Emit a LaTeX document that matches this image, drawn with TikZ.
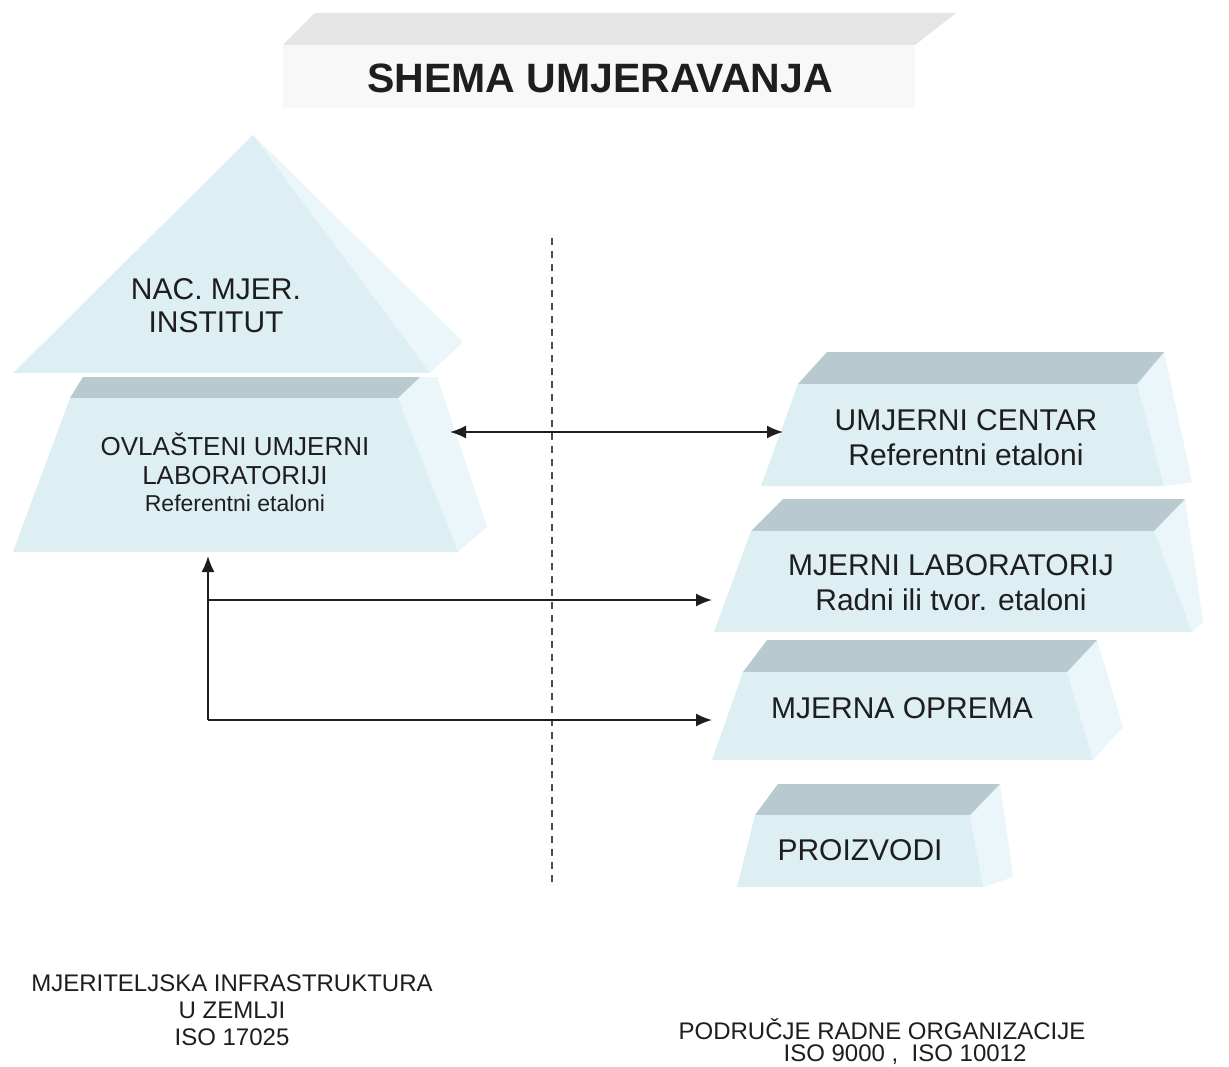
\documentclass[tikz,border=0pt]{standalone}
\usepackage{fontspec}
\setmainfont{Liberation Sans}
\usepackage{tikz}
\usetikzlibrary{scopes,arrows.meta,positioning}
\definecolor{faceblue}{RGB}{221,239,243}
\definecolor{lidgray}{RGB}{184,202,207}
\definecolor{sideblue}{RGB}{234,246,249}
\definecolor{titlelid}{RGB}{229,229,229}
\definecolor{titleface}{RGB}{248,248,248}
\definecolor{ink}{RGB}{30,30,30}
\newcommand{\titlefont}{\fontsize{41}{46}\selectfont\bfseries}
\newcommand{\boxfont}{\fontsize{30}{35}\selectfont}
\newcommand{\olabfont}{\fontsize{26}{29}\selectfont}
\newcommand{\notefont}{\fontsize{24}{27}\selectfont}

\begin{document}
\begin{tikzpicture}[
    x=1pt,y=-1pt,
    face/.style={fill=faceblue},
    lid/.style={fill=lidgray},
    side/.style={fill=sideblue},
    txt/.style={inner sep=0pt,align=center,text=ink},
    arr/.style={-{Latex[length=16pt,width=13pt]},line width=1.7pt,draw=ink},
    divider/.style={draw=ink!80,line width=1.2pt,dash pattern=on 7pt off 6pt},
]
    \fill[white] (0,0) rectangle (1229,1067);
    \useasboundingbox (0,0) rectangle (1229,1067);

    % title slab
    \fill[titlelid] (315,13) -- (956,13) -- (915,45) -- (283,45) -- cycle;
    \fill[titleface] (283,45) rectangle (915,108);
    \node[txt,font=\titlefont] (title) at (600,78) {SHEMA UMJERAVANJA};

    % left pyramid
    {[side]
        \fill (253,135) -- (463,342) -- (430,373) -- cycle;
        \fill (420,377) -- (437,377) -- (487,527) -- (458,552) -- (398,398) -- cycle;
    }
    \fill[face] (253,135) -- (430,373) -- (13,373) -- cycle;
    \fill[lid] (83,377) -- (420,377) -- (398,398) -- (70,398) -- cycle;
    \fill[face] (70,398) -- (398,398) -- (458,552) -- (13,552) -- cycle;
    \node[txt,font=\boxfont] (nacmjer) at (216,306) {NAC. MJER.\\[-2pt]INSTITUT};
    \node[txt,font=\olabfont] (olab) at (235,472) {OVLAŠTENI UMJERNI\\LABORATORIJI\\[-2pt]{\fontsize{23}{26}\selectfont Referentni etaloni}};

    % right slabs
    {[side]
        \fill (1164,352) -- (1192,482) -- (1164,486) -- (1137,384) -- cycle;
        \fill (1185,499) -- (1203,622) -- (1192,632) -- (1154,531) -- cycle;
        \fill (1097,640) -- (1123,727) -- (1093,760) -- (1067,672) -- cycle;
        \fill (1000,784) -- (1013,877) -- (983,887) -- (970,815) -- cycle;
    }
    {[lid]
        \fill (827,352) -- (1164,352) -- (1137,384) -- (798,384) -- cycle;
        \fill (783,499) -- (1185,499) -- (1154,531) -- (751,531) -- cycle;
        \fill (767,640) -- (1097,640) -- (1067,672) -- (743,672) -- cycle;
        \fill (778,784) -- (1000,784) -- (970,815) -- (755,815) -- cycle;
    }
    {[face]
        \fill (798,384) -- (1137,384) -- (1164,486) -- (761,486) -- cycle;
        \fill (751,531) -- (1154,531) -- (1192,632) -- (714,632) -- cycle;
        \fill (743,672) -- (1067,672) -- (1093,760) -- (712,760) -- cycle;
        \fill (755,815) -- (970,815) -- (983,887) -- (737,887) -- cycle;
    }
    \node[txt,font=\boxfont] (centar) at (966,438) {UMJERNI CENTAR\\Referentni etaloni};
    \node[txt,font=\boxfont] (mlab) at (951,583) {MJERNI LABORATORIJ\\Radni ili tvor. etaloni};
    \node[txt,font=\boxfont] (oprema) at (902,708) {MJERNA OPREMA};
    \node[txt,font=\boxfont] (proizvodi) at (860,850) {PROIZVODI};

    % divider
    \coordinate (divtop) at (552,238);
    \coordinate (divbot) at (552,888);
    \draw[divider] (divtop) -- (divbot);

    % connectors
    \coordinate (olab east) at (450,432);
    \coordinate (centar west) at (783,432);
    \coordinate (olab south) at (208,556);
    \coordinate (branch) at (208,600);
    \coordinate (corner) at (208,720);
    \coordinate (mlab west) at (712,600);
    \coordinate (oprema west) at (712,720);
    {[arr]
        \draw[{Latex[length=16pt,width=13pt]}-{Latex[length=16pt,width=13pt]}] (olab east) -- (centar west);
        \draw (corner) -- (olab south);
        \draw (branch) -- (mlab west);
        \draw (corner) -- (oprema west);
    }

    % notes
    \node[txt,font=\notefont] (infra) at (232,1010) {MJERITELJSKA INFRASTRUKTURA\\U ZEMLJI\\ISO 17025};
    \node[txt,font=\notefont] (podrucje) at (882,1029) {PODRUČJE RADNE ORGANIZACIJE};
    \node[txt,font=\notefont] (iso) at (905,1055) {ISO 9000 ,\ \ ISO 10012};
\end{tikzpicture}
\end{document}
